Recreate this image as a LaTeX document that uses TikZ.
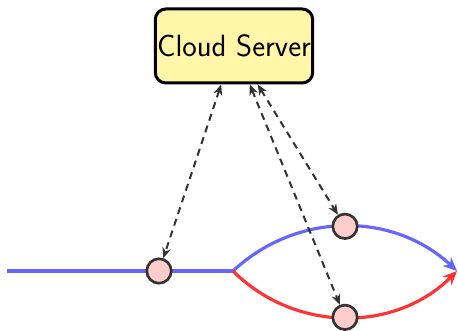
\documentclass[tikz,border=0pt]{standalone}
\usepackage{xcolor}
\usepackage{tikz}
\usetikzlibrary{
  arrows.meta,
  positioning,
  calc,
}

\definecolor{serverfill}{HTML}{FFF6AA}
\definecolor{pathblue}{HTML}{6666FF}
\definecolor{pathred}{HTML}{FF3333}
\definecolor{dotfill}{HTML}{FFCCCC}
\definecolor{dotline}{HTML}{333333}

\begin{document}
\begin{tikzpicture}[
  font=\sffamily,
  every node/.style={align=center},
  server/.style={draw=black, line width=1.7pt, rounded corners=6pt, fill=serverfill,
    minimum width=3.08cm, minimum height=1.48cm, inner sep=1pt,
    font=\sffamily\fontsize{17.5}{21}\selectfont},
  dot/.style={circle, draw=dotline, line width=1.5pt, fill=dotfill,
    minimum size=0.49cm, inner sep=0pt},
  bluepath/.style={draw=pathblue, line width=1.8pt},
  redpath/.style={draw=pathred, line width=1.8pt},
  arrow/.style={-{Stealth[length=8pt, width=7pt]}},
  link/.style={{Stealth[length=6pt, width=5pt]}-{Stealth[length=6pt, width=5pt]},
    draw=dotline, line width=1.15pt, dash pattern=on 4pt off 3pt},
]
\useasboundingbox (0,0) rectangle (9.16,6.62);

\node[server] (cloud) at (4.68,5.70) {Cloud Server};

%% incoming route and split
\coordinate (start) at (0.14,1.2);
\coordinate (split) at (4.66,1.2);
\coordinate (tip)   at (9.14,1.2);

\draw[bluepath] (start) -- node[dot, pos=0.6726] (local) {} (split);
\draw[bluepath, arrow] (split) to[bend left=43] node[dot, pos=0.5] (upper) {} (tip);
\draw[redpath, arrow] (split) to[bend right=45] node[dot, pos=0.5] (lower) {} (tip);

%% links to the server
\draw[link] (cloud) -- (local);
\draw[link] (cloud) -- (upper);
\draw[link] (cloud) -- (lower);

\end{tikzpicture}
\end{document}
